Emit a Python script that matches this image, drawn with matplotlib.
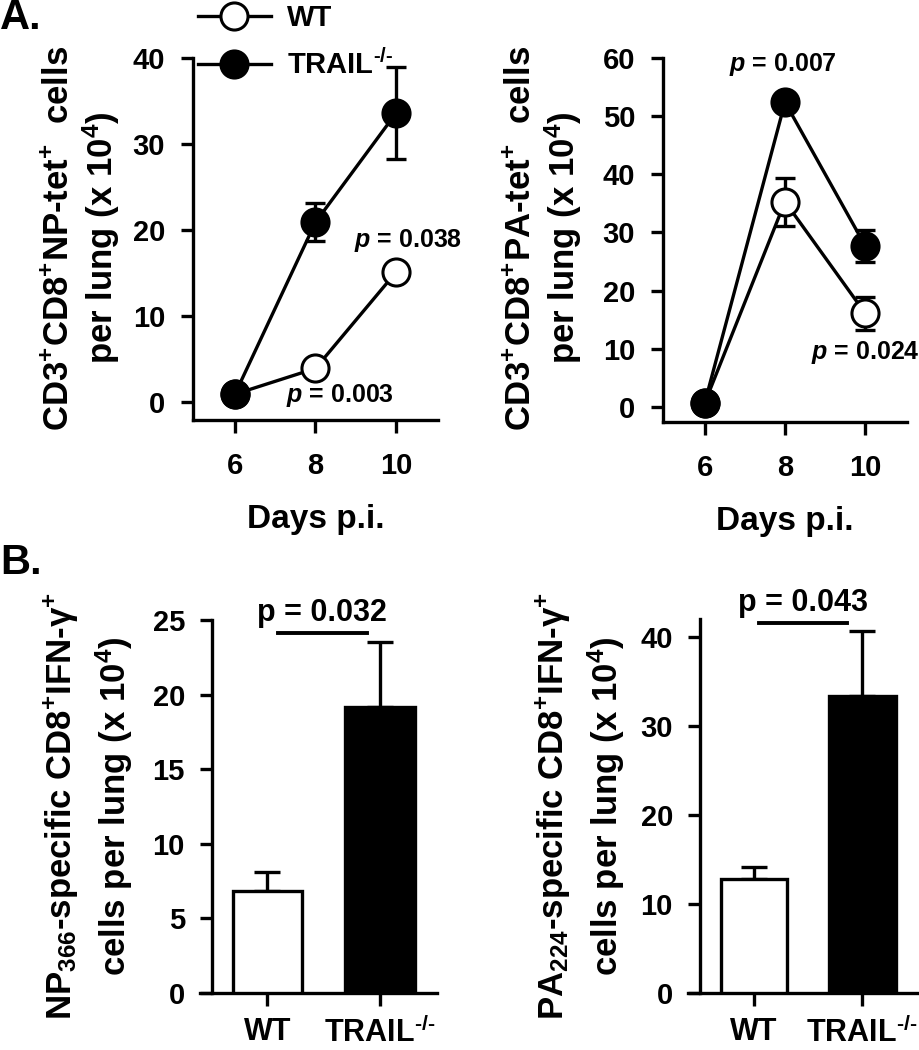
import numpy as np
import matplotlib
matplotlib.use('Agg')
import matplotlib.pyplot as plt
from matplotlib.lines import Line2D

plt.rcParams['font.family'] = 'Liberation Sans'
plt.rcParams['font.weight'] = 'bold'
plt.rcParams['axes.labelweight'] = 'bold'
plt.rcParams['mathtext.fontset'] = 'custom'
plt.rcParams['mathtext.rm'] = 'Liberation Sans:bold'
plt.rcParams['mathtext.it'] = 'Liberation Sans:italic:bold'
plt.rcParams['mathtext.bf'] = 'Liberation Sans:bold'
plt.rcParams['mathtext.default'] = 'rm'

# panel A data (mean, sem)
days = [6, 8, 10]
np_wt = [0.9, 3.9, 15.1]
np_wt_err = [0.3, 0.5, 0.8]
np_ko = [0.9, 20.9, 33.6]
np_ko_err = [0.3, 2.2, 5.4]
pa_wt = [0.7, 35.3, 16.1]
pa_wt_err = [0.3, 4.1, 2.8]
pa_ko = [0.7, 52.4, 27.7]
pa_ko_err = [0.3, 1.5, 2.8]

# panel B data
KO = r'TRAIL$^{\text{-/-}}$'
groups = ['WT', KO]
np_ifn = [6.85, 19.2]
np_ifn_err = [1.25, 4.3]
pa_ifn = [12.8, 33.3]
pa_ifn_err = [1.4, 7.3]

W, H = 920, 1050
LW = 2.4
fig = plt.figure(figsize=(W / 100, H / 100), dpi=100)


def px_axes(l, t, r, b):
    return fig.add_axes([l / W, 1 - b / H, (r - l) / W, (b - t) / H])


def style(ax, xpad, ypad):
    for s in ['top', 'right']:
        ax.spines[s].set_visible(False)
    for s in ['left', 'bottom']:
        ax.spines[s].set_linewidth(LW)
    ax.tick_params(axis='both', direction='out', length=9, width=LW, labelsize=21)
    ax.tick_params(axis='x', pad=xpad)
    ax.tick_params(axis='y', pad=ypad)


def line_panel(ax, wt, wt_err, ko, ko_err):
    for vals, err, fc, z in [(wt, wt_err, 'white', 3), (ko, ko_err, 'black', 5)]:
        ax.errorbar(days, vals, yerr=err, fmt='none', ecolor='k', elinewidth=LW,
                    capsize=7, capthick=LW, zorder=z - 1, clip_on=False)
        ax.plot(days, vals, '-o', color='k', lw=LW, ms=19.5, mfc=fc, mec='k',
                mew=2.2, zorder=z, clip_on=False)
    ax.set_xlim(4.96, 11.04)
    ax.set_xticks(days)
    ax.set_xlabel('Days p.i.', fontsize=24, labelpad=17)


# ---- A left
ax1 = px_axes(193, 58, 438, 420)
line_panel(ax1, np_wt, np_wt_err, np_ko, np_ko_err)
ax1.set_ylim(-2.1, 40)
ax1.set_yticks([0, 10, 20, 30, 40])
style(ax1, 14, 11)
ax1.text(10.3, 18.8, r'$\mathit{p}$ = 0.038', fontsize=18, ha='center', va='center', clip_on=False)
ax1.text(8.6, 0.8, r'$\mathit{p}$ = 0.003', fontsize=18, ha='center', va='center', clip_on=False)

# ---- A right
ax2 = px_axes(663, 58, 907, 422)
line_panel(ax2, pa_wt, pa_wt_err, pa_ko, pa_ko_err)
ax2.set_ylim(-2.58, 60)
ax2.set_yticks([0, 10, 20, 30, 40, 50, 60])
style(ax2, 14, 11)
ax2.text(7.95, 58.8, r'$\mathit{p}$ = 0.007', fontsize=18, ha='center', va='center', clip_on=False)
ax2.text(10.0, 9.4, r'$\mathit{p}$ = 0.024', fontsize=18, ha='center', va='center', clip_on=False)

# legend
handles = [Line2D([0], [0], color='k', lw=LW, marker='o', ms=19.5, mfc='white', mec='k', mew=2.2),
           Line2D([0], [0], color='k', lw=LW, marker='o', ms=19.5, mfc='black', mec='k', mew=2.2)]
leg = fig.legend(handles, ['WT', KO], loc='upper left',
                 bbox_to_anchor=(198 / W, 1 - 4 / H), frameon=False, fontsize=21,
                 handlelength=2.5, handletextpad=0.55, labelspacing=0.6,
                 borderpad=0, borderaxespad=0)
leg.set_zorder(10)


# ---- B panels
def bar_panel(ax, vals, err, ylim, yticks, ptext, px, py, bx, by):
    x = np.arange(len(groups))
    ax.bar(x, vals, width=0.62, color=['white', 'black'], edgecolor='k', linewidth=LW, zorder=3)
    ax.errorbar(x, vals, yerr=[[0] * len(vals), err], fmt='none', ecolor='k',
                elinewidth=LW, capsize=9.5, capthick=LW, zorder=2)
    ax.set_xticks(x)
    ax.set_ylim(*ylim)
    ax.set_yticks(yticks)
    ax.plot(bx, [by, by], color='k', lw=2.8, clip_on=False)
    ax.text(px, py, ptext, fontsize=22, ha='center', va='center', clip_on=False)


ax3 = px_axes(200, 620, 437, 993)
ax3.set_xlim(-0.6, 1.507)
bar_panel(ax3, np_ifn, np_ifn_err, (0, 25), [0, 5, 10, 15, 20, 25],
          'p = 0.032', 0.48, 25.45, [0.09, 0.885], 24.1)
style(ax3, 8, 10.5)
ax3.set_xticklabels(groups, fontsize=22)
ax3.spines['left'].set_position(('data', -0.493))

ax4 = px_axes(688, 619, 917, 993)
ax4.set_xlim(-0.611, 1.509)
bar_panel(ax4, pa_ifn, pa_ifn_err, (0, 42), [0, 10, 20, 30, 40],
          'p = 0.043', 0.45, 43.8, [0.05, 0.86], 41.6)
style(ax4, 8, 10.5)
ax4.set_xticklabels(groups, fontsize=22)
ax4.spines['left'].set_position(('data', -0.5))

# y labels
ylabels = [
    (82, 238, 'CD3$^{+}$CD8$^{+}$NP-tet$^{+}$  cells\nper lung (x 10$^{4}$)', 1.2),
    (544, 238, 'CD3$^{+}$CD8$^{+}$PA-tet$^{+}$  cells\nper lung (x 10$^{4}$)', 1.2),
    (88, 806, 'NP$_{366}$-specific CD8$^{+}$IFN-$\\gamma^{+}$\ncells per lung (x 10$^{4}$)', 1.4),
    (580, 806, 'PA$_{224}$-specific CD8$^{+}$IFN-$\\gamma^{+}$\ncells per lung (x 10$^{4}$)', 1.4),
]
for xp, yp, s, ls in ylabels:
    fig.text(xp / W, 1 - yp / H, s, rotation=90, fontsize=25, ha='center', va='center',
             multialignment='center', linespacing=ls)

fig.text(0 / W, 1 - 18 / H, 'A.', fontsize=30, ha='left', va='center')
fig.text(0 / W, 1 - 563 / H, 'B.', fontsize=30, ha='left', va='center')

fig.savefig('out.png', dpi=100)
